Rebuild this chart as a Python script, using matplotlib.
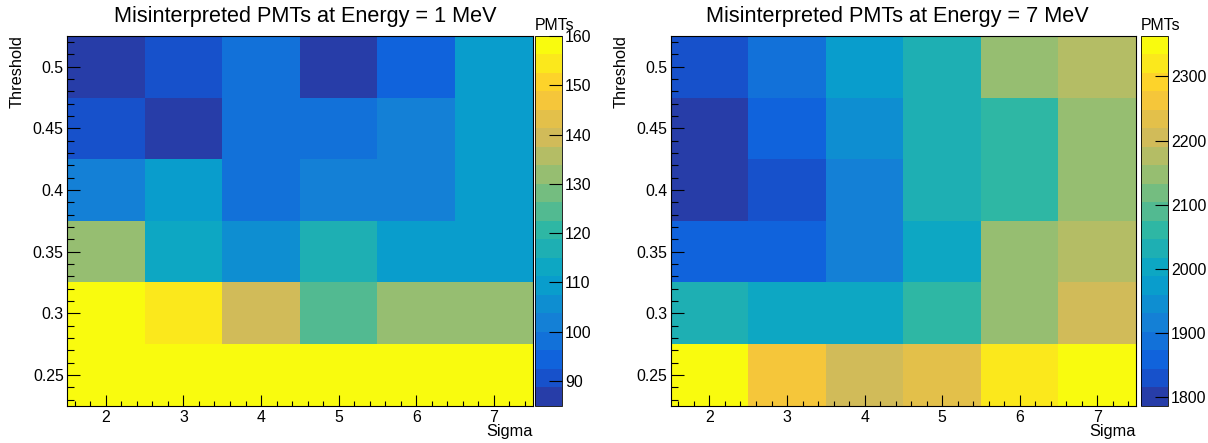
import numpy as np
import matplotlib
matplotlib.use('Agg')
import matplotlib.pyplot as plt
from matplotlib.colors import LinearSegmentedColormap, ListedColormap, BoundaryNorm
from matplotlib.ticker import MultipleLocator, FormatStrFormatter

# Scan grid (bin centres)
sigmas = [2, 3, 4, 5, 6, 7]
thresholds = [0.25, 0.3, 0.35, 0.4, 0.45, 0.5]

# Misinterpreted PMT counts, rows = threshold (low -> high), cols = sigma
pmts_1mev = [
    [160, 158, 159, 160, 157, 158],
    [157, 154, 139, 124, 132, 131],
    [132, 113, 105, 117, 109, 110],
    [102, 109,  98, 101, 102, 110],
    [ 90,  87,  98,  97, 102, 109],
    [ 85,  91,  98,  86,  94, 110],
]
pmts_7mev = [
    [2363, 2262, 2205, 2233, 2320, 2350],
    [2032, 2005, 2001, 2060, 2147, 2207],
    [1858, 1862, 1918, 2003, 2150, 2176],
    [1795, 1830, 1916, 2030, 2058, 2145],
    [1787, 1860, 1945, 2033, 2062, 2149],
    [1829, 1888, 1974, 2034, 2146, 2178],
]
cbar_ticks_1mev = [90, 100, 110, 120, 130, 140, 150, 160]
cbar_ticks_7mev = [1800, 1900, 2000, 2100, 2200, 2300]

W, H = 1208, 443
NCONT = 20
FS_TICK = 11.4
FS_LABEL = 11.8
FS_TITLE = 15.6


def bird_palette(ncont=NCONT):
    '''ROOT kBird palette, reduced to ncont contour colours like COLZ does'''
    stops = [0.0, 0.125, 0.25, 0.375, 0.5, 0.625, 0.75, 0.875, 1.0]
    red = [0.2082, 0.0592, 0.0780, 0.0232, 0.1802, 0.5301, 0.8186, 0.9956, 0.9764]
    green = [0.1664, 0.3599, 0.5041, 0.6419, 0.7178, 0.7492, 0.7328, 0.7862, 0.9832]
    blue = [0.5293, 0.8684, 0.8385, 0.7914, 0.6425, 0.4662, 0.3499, 0.1968, 0.0539]
    cdict = {'red': [(s, c, c) for s, c in zip(stops, red)],
             'green': [(s, c, c) for s, c in zip(stops, green)],
             'blue': [(s, c, c) for s, c in zip(stops, blue)]}
    full = LinearSegmentedColormap('kBird', cdict, N=255)
    idx = [int((i + 0.99) * 255 / ncont) for i in range(ncont)]
    return ListedColormap([full(min(k, 254) / 254) for k in idx])


def px_box(x0, x1, y0, y1):
    # pixel box (top-left origin) -> figure fraction rect
    return [x0 / W, 1 - y1 / H, (x1 - x0) / W, (y1 - y0) / H]


def colz(fig, ax, cax, z, cticks, title, title_x):
    z = np.array(z, dtype=float)
    cmap = bird_palette()
    levels = np.linspace(z.min(), z.max(), NCONT + 1)
    norm = BoundaryNorm(levels, cmap.N, clip=True)

    xe = np.append(np.array(sigmas) - 0.5, sigmas[-1] + 0.5)
    ye = np.append(np.array(thresholds) - 0.025, thresholds[-1] + 0.025)
    mesh = ax.pcolormesh(xe, ye, z, cmap=cmap, norm=norm)
    ax.set_xlim(xe[0], xe[-1])
    ax.set_ylim(ye[0], ye[-1])

    ax.xaxis.set_major_locator(MultipleLocator(1))
    ax.xaxis.set_minor_locator(MultipleLocator(0.2))
    ax.yaxis.set_major_locator(MultipleLocator(0.05))
    ax.yaxis.set_minor_locator(MultipleLocator(0.01))
    ax.yaxis.set_major_formatter(FormatStrFormatter('%g'))
    ax.tick_params(which='both', direction='in', top=False, right=False,
                   labelsize=FS_TICK, color='k', width=0.8)
    ax.tick_params(axis='x', which='major', length=7.6, pad=3.0)
    ax.tick_params(axis='x', which='minor', length=3.8)
    ax.tick_params(axis='y', which='major', length=9.4, pad=2.4)
    ax.tick_params(axis='y', which='minor', length=4.7)
    for sp in ax.spines.values():
        sp.set_linewidth(0.8)

    bb = ax.get_position()
    fig.text(bb.x1, 1 - 436 / H, 'Sigma', ha='right', va='baseline', fontsize=FS_LABEL)
    fig.text(bb.x0 - 50 / W, bb.y1 + 1 / H, 'Threshold', rotation=90, ha='center',
             va='top', fontsize=FS_LABEL)
    fig.text(title_x / W, 1 - 22 / H, title, ha='center', va='baseline',
             fontsize=FS_TITLE)

    cb = fig.colorbar(mesh, cax=cax, ticks=cticks, drawedges=False)
    cb.outline.set_linewidth(0.6)
    cax.tick_params(direction='in', length=9.4, width=0.8, pad=2.2,
                    labelsize=FS_TICK, right=True, left=False)
    cax.minorticks_off()
    cbb = cax.get_position()
    fig.text(cbb.x0, 1 - 30 / H, 'PMTs', ha='left', va='baseline', fontsize=FS_TICK)


def main():
    plt.rcParams['font.family'] = ['Liberation Sans', 'DejaVu Sans']
    fig = plt.figure(figsize=(W / 100, H / 100), dpi=100)

    ax1 = fig.add_axes(px_box(67, 532.7, 36, 405.7))
    cax1 = fig.add_axes(px_box(535, 562, 36, 405.7))
    ax2 = fig.add_axes(px_box(670.7, 1136, 36, 405.7))
    cax2 = fig.add_axes(px_box(1141, 1168, 36, 405.7))

    colz(fig, ax1, cax1, pmts_1mev, cbar_ticks_1mev,
         'Misinterpreted PMTs at Energy = 1 MeV', 305)
    colz(fig, ax2, cax2, pmts_7mev, cbar_ticks_7mev,
         'Misinterpreted PMTs at Energy = 7 MeV', 897)

    fig.savefig('out.png', dpi=100)


if __name__ == '__main__':
    main()
